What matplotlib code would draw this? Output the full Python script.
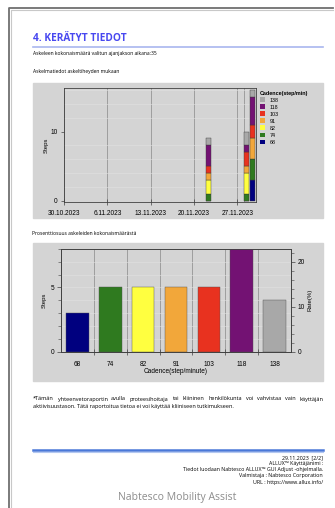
import matplotlib
matplotlib.use("Agg")
import matplotlib.pyplot as plt
import matplotlib.dates as mdates
from matplotlib.lines import Line2D
from matplotlib.patches import Rectangle
from matplotlib.ticker import MultipleLocator, FixedLocator, FuncFormatter, NullFormatter
import numpy as np
import datetime as dt

# ---- data ----
dates = ["2023-11-22", "2023-11-28", "2023-11-29"]
cadences = ["68", "74", "82", "91", "103", "118", "138"]
colors = ["#00007f", "#2f7a1f", "#ffff40", "#f2a73a", "#e8321f", "#731273", "#a8a8a8"]
steps_68 = [0, 0, 3]
steps_74 = [1, 1, 3]
steps_82 = [2, 3, 0]
steps_91 = [1, 1, 3]
steps_103 = [1, 2, 2]
steps_118 = [3, 1, 4]
steps_138 = [1, 2, 1]
week_ticks = ["2023-10-30", "2023-11-06", "2023-11-13", "2023-11-20", "2023-11-27"]
extra_grid = ["2023-11-28"]
x_start, x_end = "2023-10-30", "2023-11-30"

series = [steps_68, steps_74, steps_82, steps_91, steps_103, steps_118, steps_138]
totals = [sum(s) for s in series]
total_steps = sum(totals)

W, H = 335, 508
DOC = "Open Sans"
CH = "Liberation Sans"
PANEL = "#d4d4d4"


def fx(x):
    return x / W


def fy(y):
    return 1 - y / H


def box(x0, y0, x1, y1):
    return [x0 / W, 1 - y1 / H, (x1 - x0) / W, (y1 - y0) / H]


def d2n(s):
    return mdates.date2num(dt.datetime.strptime(s, "%Y-%m-%d"))


fig = plt.figure(figsize=(W / 100, H / 100), dpi=100)
fig.patch.set_facecolor("white")
renderer = fig.canvas.get_renderer()


def justified(x0, x1, y, text, size):
    # spread the words so the line fills x0..x1, like the justified paragraph
    words = text.split()
    items = [fig.text(fx(x0), fy(y), w, family=DOC, fontsize=size, va="center") for w in words]
    widths = [t.get_window_extent(renderer).width for t in items]
    gap = ((x1 - x0) - sum(widths)) / (len(words) - 1)
    x = x0
    for t, w in zip(items, widths):
        t.set_position((fx(x), fy(y)))
        x += w + gap


# page frame
fig.add_artist(Line2D([fx(8.5), fx(8.5), fx(333)], [0, fy(8), fy(8)], color="#707070", lw=1.3))
fig.add_artist(Line2D([fx(10.5), fx(10.5), fx(333)], [0, fy(9.8), fy(9.8)], color="#c8c8c8", lw=0.8))

# header
fig.text(fx(33), fy(38.5), "4. KERÄTYT TIEDOT", family=DOC, weight="bold", fontsize=7.3,
         color="#4848f0", va="center")
fig.add_artist(Line2D([fx(33), fx(323)], [fy(46.7), fy(46.7)], color="#a9b6ef", lw=1.2))
fig.text(fx(33), fy(53.5), f"Askeleen kokonaismäärä valitun ajanjakson aikana:{total_steps}",
         family=DOC, fontsize=3.65, va="center")
fig.text(fx(33), fy(72), "Askelmatiedot askeltiheyden mukaan", family=DOC, fontsize=3.65, va="center")
fig.text(fx(32), fy(233), "Prosenttiosuus askeleiden kokonaismäärästä", family=DOC, fontsize=3.6,
         va="center")

# gray panels behind charts
fig.add_artist(Rectangle((fx(33), fy(218)), (323 - 33) / W, (218 - 83) / H,
                         transform=fig.transFigure, color=PANEL, zorder=0))
fig.add_artist(Rectangle((fx(33), fy(381)), (323 - 33) / W, (381 - 243) / H,
                         transform=fig.transFigure, color=PANEL, zorder=0))

# ---- chart 1: stacked steps per day ----
ax1 = fig.add_axes(box(64, 88, 256, 202))
ax1.set_facecolor(PANEL)
xd = np.array([d2n(d) for d in dates])
bottom = np.zeros(len(dates))
for lab, col, vals in zip(cadences, colors, series):
    ax1.bar(xd, vals, width=0.8, bottom=bottom, align="edge", color=col,
            edgecolor="#3a3a3a", linewidth=0.3, label=lab, zorder=3)
    bottom += np.array(vals)
ax1.set_xlim(d2n(x_start), d2n(x_end))
ax1.set_ylim(-0.2, 16.3)
ax1.xaxis.set_major_locator(FixedLocator([d2n(d) for d in week_ticks]))
ax1.xaxis.set_minor_locator(FixedLocator([d2n(d) for d in extra_grid]))


def fmt_date(v, p):
    d = mdates.num2date(v)
    return f"{d.day}.{d.month}.{d.year}"


ax1.xaxis.set_major_formatter(FuncFormatter(fmt_date))
ax1.xaxis.set_minor_formatter(NullFormatter())
ax1.yaxis.set_major_locator(FixedLocator([0, 10]))
ax1.yaxis.set_minor_locator(MultipleLocator(2))
ax1.grid(axis="x", which="both", color="#909090", lw=0.55, zorder=1)
ax1.grid(axis="y", which="minor", color="#e2e2e2", lw=0.4, zorder=1)
ax1.tick_params(axis="x", which="major", direction="inout", length=4, width=0.5, labelsize=4.7,
                pad=4, colors="#404040", labelcolor="black")
ax1.tick_params(axis="x", which="minor", length=0)
ax1.tick_params(axis="y", which="major", length=2.5, width=0.5, labelsize=4.7, pad=2,
                colors="#404040", labelcolor="black")
ax1.tick_params(axis="y", which="minor", length=0)
for lbl in ax1.get_xticklabels() + ax1.get_yticklabels():
    lbl.set_family(CH)
for sp in ax1.spines.values():
    sp.set_color("#404040")
    sp.set_linewidth(0.6)
ax1.set_ylabel("Steps", family=CH, fontsize=4.3, labelpad=1.5)

h, l = ax1.get_legend_handles_labels()
leg = ax1.legend(h[::-1], l[::-1], title="Cadence(step/min)", loc="upper left",
                 bbox_to_anchor=(fx(257), fy(88)), bbox_transform=fig.transFigure,
                 frameon=False, prop={"family": CH, "size": 3.9},
                 title_fontproperties={"family": CH, "size": 3.9, "weight": "bold"},
                 handlelength=1.0, handleheight=1.0, labelspacing=0.32, borderpad=0,
                 handletextpad=0.9, alignment="left")
for p in leg.get_patches():
    p.set_linewidth(0)

# ---- chart 2: steps per cadence ----
ax2 = fig.add_axes(box(61, 249, 291, 351.5))
ax2.set_facecolor(PANEL)
xs = np.arange(len(cadences))
ax2.bar(xs, totals, width=0.69, color=colors, edgecolor="#505050", linewidth=0.3, zorder=3)
ax2.set_xlim(-0.5, len(cadences) - 0.5)
ax2.set_ylim(0, max(totals))
ax2.set_xticks(xs)
ax2.set_xticklabels(cadences, family=CH, fontsize=4.7)
ax2.xaxis.set_minor_locator(FixedLocator(xs[:-1] + 0.5))
ax2.yaxis.set_major_locator(FixedLocator([0, 5]))
ax2.yaxis.set_minor_locator(MultipleLocator(1))
ax2.grid(axis="x", which="minor", color="#909090", lw=0.55, zorder=1)
ax2.grid(axis="y", which="both", color="#e2e2e2", lw=0.4, zorder=1)
ax2.tick_params(axis="x", which="major", length=0, pad=7)
ax2.tick_params(axis="x", which="minor", direction="inout", length=4, width=0.5, colors="#404040")
ax2.tick_params(axis="y", which="major", length=3, width=0.5, labelsize=4.7, pad=2,
                colors="#404040", labelcolor="black")
ax2.tick_params(axis="y", which="minor", length=2, width=0.4, colors="#404040")
for lbl in ax2.get_yticklabels():
    lbl.set_family(CH)
for sp in ax2.spines.values():
    sp.set_color("#404040")
    sp.set_linewidth(0.6)
ax2.set_ylabel("Steps", family=CH, fontsize=4.3, labelpad=2.5)
ax2.set_xlabel("Cadence(step/minute)", family=CH, fontsize=4.7, labelpad=0)

ax2r = ax2.twinx()
ax2r.set_ylim(0, max(totals) / total_steps * 100)
ax2r.yaxis.set_major_locator(FixedLocator([0, 10, 20]))
ax2r.yaxis.set_minor_locator(MultipleLocator(2))
ax2r.tick_params(axis="y", which="major", length=3, width=0.5, labelsize=4.7, pad=2,
                 colors="#404040", labelcolor="black")
ax2r.tick_params(axis="y", which="minor", length=2, width=0.4, colors="#404040")
for lbl in ax2r.get_yticklabels():
    lbl.set_family(CH)
for sp in ax2r.spines.values():
    sp.set_color("#404040")
    sp.set_linewidth(0.6)
ax2r.set_ylabel("Rate(%)", family=CH, fontsize=4.3, labelpad=2)

# footnote (first line justified)
justified(33, 323, 399, "*Tämän yhteenvetoraportin avulla proteesihoitaja tai kliininen "
          "henkilökunta voi vahvistaa vain käyttäjän", 4.0)
fig.text(fx(33), fy(406.7), "aktiivisuustason. Tätä raportoitua tietoa ei voi käyttää kliiniseen "
         "tutkimukseen.", family=DOC, fontsize=4.0, va="center")

# footer
fig.add_artist(Line2D([fx(33), fx(323)], [fy(450), fy(450)], color="#4a78d8", lw=1.8))
fig.add_artist(Line2D([fx(33), fx(323)], [fy(452), fy(452)], color="#b4c8f0", lw=0.8))
footer = ["29.11.2023  [2/2]",
          "ALLUX™ Käyttäjänimi :",
          "Tiedot luodaan Nabtesco ALLUX™ GUI Adjust -ohjelmalla.",
          "Valmistaja : Nabtesco Corporation",
          "URL : https://www.allux.info/"]
for i, line in enumerate(footer):
    fig.text(fx(323), fy(457.7 + i * 6.1), line, family=DOC, fontsize=3.8, ha="right", va="center")
fig.text(fx(177), fy(497.5), "Nabtesco Mobility Assist", family=DOC, fontsize=7.5, color="#8c8c8c",
         ha="center", va="center")

fig.savefig("out.png", dpi=100)
